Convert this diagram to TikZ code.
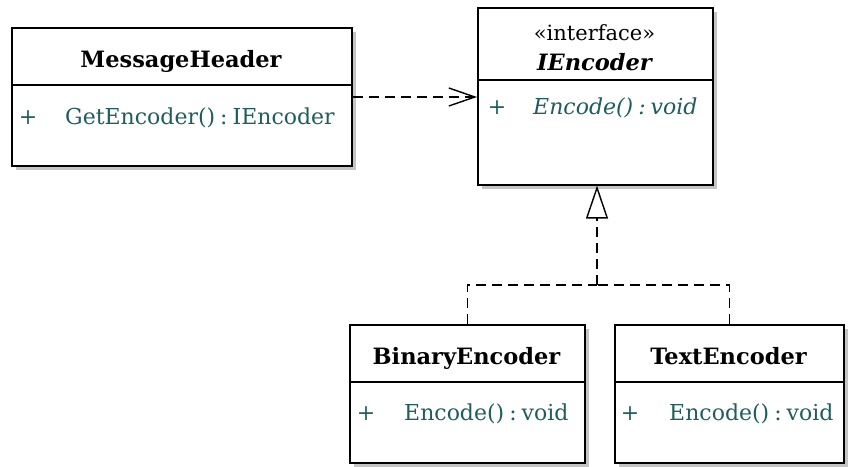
\documentclass[tikz,border=0pt]{standalone}
\usepackage{fontspec}
\setmainfont{DejaVu Serif}
\usetikzlibrary{arrows.meta,shadows}
\definecolor{membercol}{HTML}{1E5E5E}
\definecolor{shadowcol}{HTML}{C4C4C4}
\newcommand{\opsep}{\hspace{5pt}:\hspace{5pt}}
\begin{document}
\begin{tikzpicture}[x=1pt,y=-1pt,
  classbox/.style={draw=black, line width=1.6pt, fill=white, anchor=north west, inner sep=0pt,
    drop shadow={shadow xshift=4pt, shadow yshift=-4pt, fill=shadowcol, opacity=1}},
  divider/.style={line width=1.4pt},
  titletext/.style={font=\fontsize{22.5}{24}\selectfont\bfseries, anchor=base, inner sep=0pt},
  stereotext/.style={font=\fontsize{21}{24}\selectfont, anchor=base, inner sep=0pt},
  visib/.style={font=\fontsize{22}{24}\selectfont, text=membercol, anchor=base, inner sep=0pt},
  membertext/.style={font=\fontsize{22}{24}\selectfont, text=membercol, anchor=base west, inner sep=0pt},
  dep/.style={line width=1.4pt, dash pattern=on 10pt off 6pt, -{Straight Barb[length=26pt,width=18pt,line width=1.4pt]}},
  realize/.style={line width=1.4pt, dash pattern=on 10pt off 6pt},
  realtip/.style={line width=1.4pt, dash pattern=on 10pt off 6pt, -{Triangle[open,length=33pt,width=22pt,fill=white,line width=1.4pt]}}]
\useasboundingbox (0,0) rectangle (848,466);

% MessageHeader
\node[classbox, minimum width=340pt, minimum height=138pt] (mh) at (11,27) {};
\draw[divider] (11,85) -- (351,85);
\node[titletext] (mhtitle) at (181,67) {MessageHeader};
\node[visib] (mhplus) at (28,124) {+};
\node[membertext] (mhop) at (65,124) {GetEncoder()\opsep IEncoder};

% IEncoder interface
\node[classbox, minimum width=235pt, minimum height=177pt] (ie) at (477,7) {};
\draw[divider] (477,80) -- (712,80);
\node[stereotext] (iestereo) at (594.5,40) {«interface»};
\node[titletext, font=\fontsize{22.5}{24}\selectfont\bfseries\itshape] (ietitle) at (594.5,70) {IEncoder};
\node[visib] (ieplus) at (497,114) {+};
\node[membertext, font=\fontsize{22}{24}\selectfont\itshape] (ieop) at (533,114) {Encode()\opsep void};

% BinaryEncoder
\node[classbox, minimum width=235pt, minimum height=138pt] (be) at (349,324) {};
\draw[divider] (349,382) -- (584,382);
\node[titletext] (betitle) at (466.5,364) {BinaryEncoder};
\node[visib] (beplus) at (366,420) {+};
\node[membertext] (beop) at (404,420) {Encode()\opsep void};

% TextEncoder
\node[classbox, minimum width=229pt, minimum height=138pt] (te) at (614,324) {};
\draw[divider] (614,382) -- (843,382);
\node[titletext] (tetitle) at (728.5,364) {TextEncoder};
\node[visib] (teplus) at (630,420) {+};
\node[membertext] (teop) at (669,420) {Encode()\opsep void};

% dependency MessageHeader -> IEncoder
\draw[dep] (mh.east |- 0,97) -- (ie.west |- 0,97);

% realization of IEncoder
\coordinate (join) at (597,285);
\draw[realize] (be.north) |- (join);
\draw[realize] (te.north) |- (join);
\draw[realtip] (join) -- (join |- ie.south);
\end{tikzpicture}
\end{document}
